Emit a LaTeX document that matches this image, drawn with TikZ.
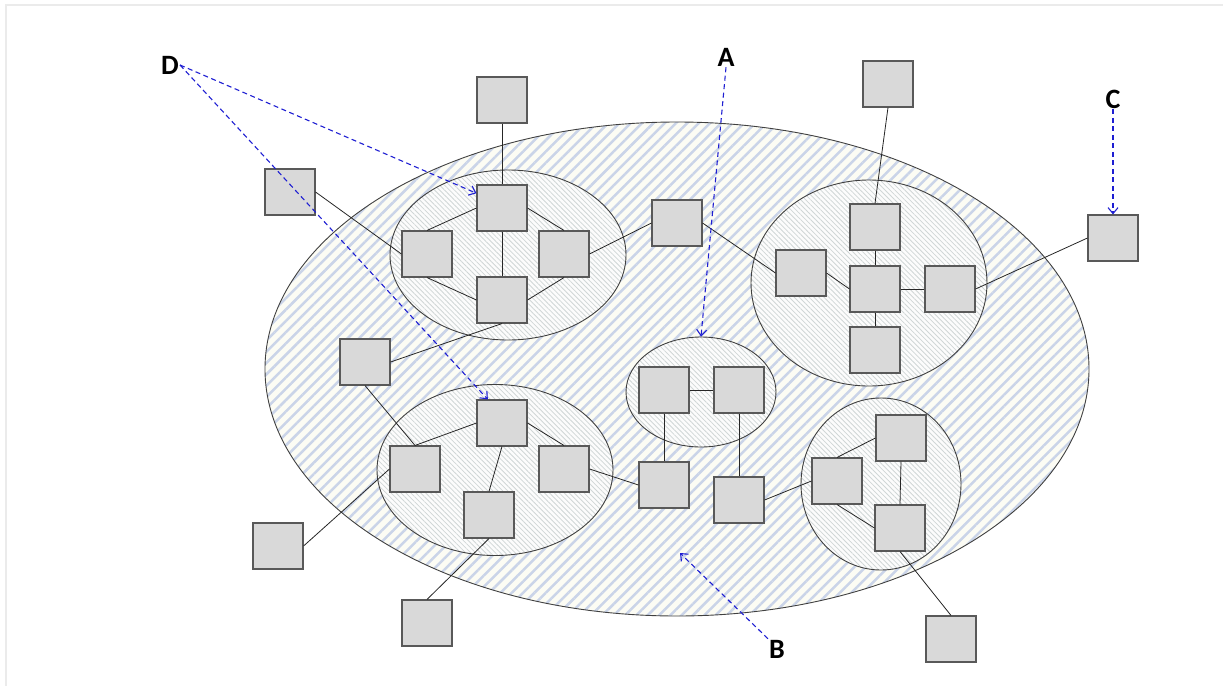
\documentclass[tikz,border=0pt]{standalone}
\usepackage{fontspec}
\setsansfont{Carlito}
\usetikzlibrary{shapes.geometric,patterns.meta,arrows.meta}

\definecolor{stripeblue}{RGB}{202,212,232}
\definecolor{stripegray}{RGB}{208,214,214}
\definecolor{cream}{RGB}{252,252,244}
\definecolor{boxgray}{RGB}{217,217,217}
\definecolor{pointblue}{RGB}{30,30,210}

\tikzset{
  box/.style={draw=black!65, fill=boxgray, line width=1.1, minimum width=50, minimum height=46, inner sep=0},
  netarea/.style={ellipse, draw=black!75, line width=0.9, inner sep=0,
    preaction={fill=cream},
    pattern={Lines[angle=45,distance=8pt,line width=2.5pt]}, pattern color=stripeblue},
  cluster/.style={ellipse, draw=black!75, line width=0.9, inner sep=0,
    preaction={fill=white!98!gray},
    pattern={Lines[angle=-45,distance=3.5pt,line width=0.8pt]}, pattern color=stripegray},
  link/.style={draw=black!85, line width=0.8},
  pointer/.style={draw=pointblue, line width=1.1, dash pattern=on 5pt off 3.5pt, -{Straight Barb[length=6pt,width=10pt]}},
  tag/.style={font=\sffamily\bfseries\fontsize{28}{32}\selectfont, inner sep=1}
}

\begin{document}
\begin{tikzpicture}[x=1pt,y=1pt,yscale=-1,xscale=1]
\useasboundingbox (0,0) rectangle (1223,686);
\draw[black!8, line width=1.5] (6,686) -- (6,5) -- (1223,5);

% whole network and its groups
\node[netarea, minimum width=824, minimum height=494] (net) at (677,369) {};
\node[cluster, minimum width=236, minimum height=170] (ctl) at (508,255) {};
\node[cluster, minimum width=236, minimum height=206] (cr) at (869,283) {};
\node[cluster, minimum width=150, minimum height=110] (cm) at (701,392) {};
\node[cluster, minimum width=236, minimum height=171] (cbl) at (495,470) {};
\node[cluster, minimum width=160, minimum height=172] (cbr) at (881,484) {};

% top left group
\node[box] (T1) at (502,208) {};
\node[box] (T2) at (427,254) {};
\node[box] (T3) at (564,254) {};
\node[box] (T4) at (502,300) {};
% right group
\node[box] (R1) at (875,227) {};
\node[box] (R2) at (875,289) {};
\node[box] (R3) at (801,273) {};
\node[box] (R4) at (950,289) {};
\node[box] (R5) at (875,350) {};
% middle group
\node[box] (M1) at (664,390) {};
\node[box] (M2) at (739,390) {};
% bottom left group
\node[box] (B1) at (502,423) {};
\node[box] (B2) at (415,469) {};
\node[box] (B3) at (564,469) {};
\node[box] (B4) at (489,515) {};
% bottom right group
\node[box] (S1) at (901,438) {};
\node[box] (S2) at (837,481) {};
\node[box] (S3) at (900,528) {};
% single nodes
\node[box] (x1) at (502,100) {};
\node[box] (x2) at (290,192) {};
\node[box] (x3) at (677,223) {};
\node[box] (x4) at (365,362) {};
\node[box] (x5) at (888,84) {};
\node[box] (x6) at (1113,238) {};
\node[box] (x7) at (664,485) {};
\node[box] (x8) at (739,500) {};
\node[box] (x9) at (278,546) {};
\node[box] (x10) at (427,623) {};
\node[box] (x11) at (951,639) {};

% links
\draw[link] (T1.west) -- (T2.north);
\draw[link] (T1.east) -- (T3.north);
\draw[link] (T1) -- (T4);
\draw[link] (T2.south) -- (T4.west);
\draw[link] (T3.south) -- (T4.east);
\draw[link] (x1) -- (T1);
\draw[link] (x2.east) -- (T2.west);
\draw[link] (T3.east) -- (x3.west);
\draw[link] (x3.east) -- (R3.west);
\draw[link] (T4.south) -- (x4.east);

\draw[link] (R1) -- (R2);
\draw[link] (R2) -- (R5);
\draw[link] (R2) -- (R4);
\draw[link] (R3.east) -- (R2.west);
\draw[link] (x5.south) -- (R1.north);
\draw[link] (R4.east) -- (x6.west);

\draw[link] (M1) -- (M2);
\draw[link] (M1) -- (x7);
\draw[link] (M2) -- (x8);
\draw[link] (x8.east) -- (S2.west);

\draw[link] (B1.west) -- (B2.north);
\draw[link] (B1.east) -- (B3.north);
\draw[link] (B1.south) -- (B4.north);
\draw[link] (B3.east) -- (x7.west);
\draw[link] (x4.south) -- (B2.north);
\draw[link] (B2.west) -- (x9.east);
\draw[link] (B4.south) -- (x10.north);

\draw[link] (S2.north) -- (S1.west);
\draw[link] (S1.south) -- (S3.north);
\draw[link] (S2.south) -- (S3.west);
\draw[link] (S3.south) -- (x11.north);

% labels and pointers
\node[tag] (lD) at (170,65) {D};
\node[tag] (lA) at (726,57) {A};
\node[tag] (lC) at (1113,99) {C};
\node[tag] (lB) at (777,649) {B};
\coordinate (bpt) at (680,553);

\draw[pointer] (lD.east) -- (T1.150);
\draw[pointer] (lD.east) -- (B1.121);
\draw[pointer] (lA.south) -- (cm.north);
\draw[pointer] (lC.south) -- (x6.north);
\draw[pointer] (lB.north west) -- (bpt);
\end{tikzpicture}
\end{document}
